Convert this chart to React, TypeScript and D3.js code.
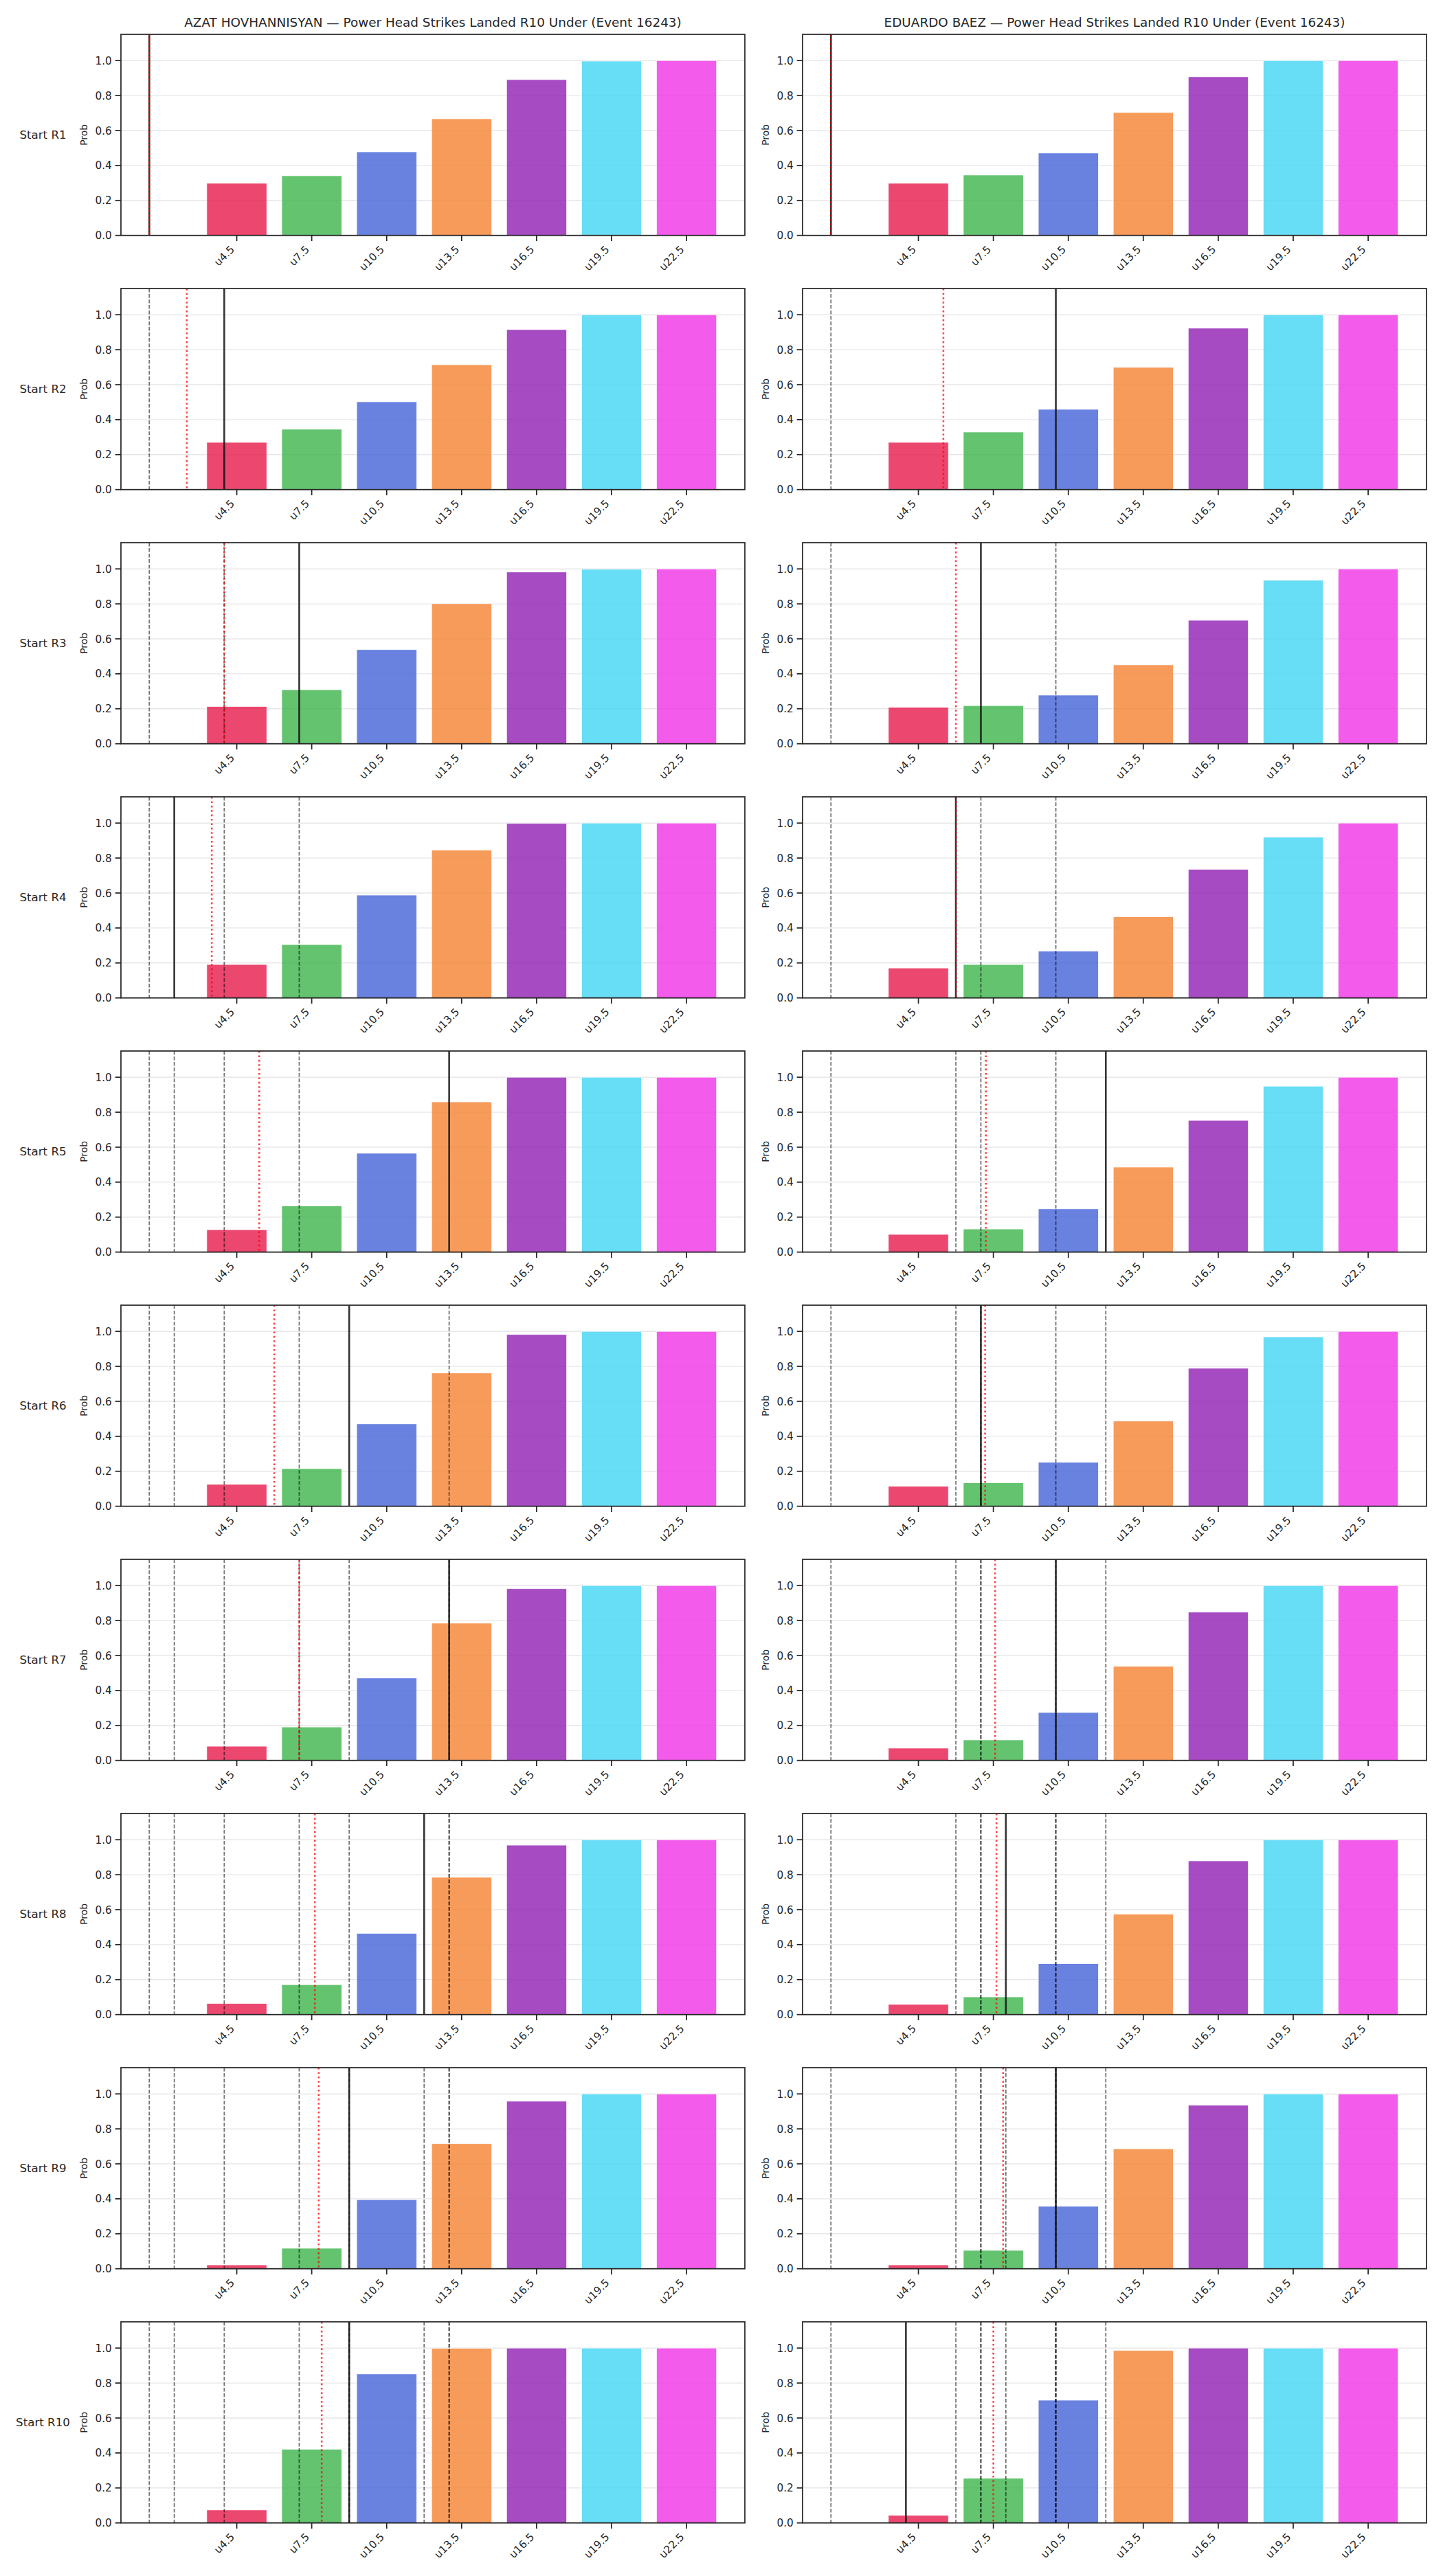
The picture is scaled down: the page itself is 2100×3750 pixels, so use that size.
import * as d3 from "d3";

// bar thresholds on the x axis (line value = numeric position)
const thresholds = ["u4.5", "u7.5", "u10.5", "u13.5", "u16.5", "u19.5", "u22.5"];
const lineValues = [4.5, 7.5, 10.5, 13.5, 16.5, 19.5, 22.5];
const barColors = ["#e6194b", "#3cb44b", "#4363d8", "#f58231", "#911eb4", "#42d4f4", "#f032e6"];
const rounds = ["R1", "R2", "R3", "R4", "R5", "R6", "R7", "R8", "R9", "R10"];
const yTicks = [0, 0.2, 0.4, 0.6, 0.8, 1.0];

const fighterNames = ["AZAT HOVHANNISYAN", "EDUARDO BAEZ"];
const propName = "Power Head Strikes Landed R10 Under";
const eventId = 16243;

// P(under) per starting round
const azatProbs = [
  [0.298, 0.341, 0.478, 0.667, 0.891, 0.997, 1.0],
  [0.27, 0.345, 0.502, 0.714, 0.915, 1.0, 1.0],
  [0.213, 0.309, 0.538, 0.801, 0.982, 0.998, 1.0],
  [0.191, 0.305, 0.588, 0.845, 0.998, 1.0, 1.0],
  [0.128, 0.264, 0.565, 0.859, 1.0, 1.0, 1.0],
  [0.125, 0.215, 0.471, 0.762, 0.982, 1.0, 1.0],
  [0.081, 0.191, 0.471, 0.785, 0.982, 1.0, 1.0],
  [0.063, 0.171, 0.464, 0.785, 0.969, 1.0, 1.0],
  [0.022, 0.117, 0.395, 0.715, 0.958, 1.0, 1.0],
  [0.074, 0.421, 0.852, 0.998, 1.0, 1.0, 1.0],
];
const eduardoProbs = [
  [0.298, 0.345, 0.471, 0.703, 0.907, 1.0, 1.0],
  [0.27, 0.329, 0.459, 0.699, 0.923, 1.0, 1.0],
  [0.208, 0.218, 0.278, 0.451, 0.706, 0.935, 1.0],
  [0.171, 0.191, 0.267, 0.464, 0.735, 0.919, 1.0],
  [0.101, 0.132, 0.247, 0.486, 0.753, 0.949, 1.0],
  [0.114, 0.134, 0.251, 0.487, 0.789, 0.969, 1.0],
  [0.07, 0.117, 0.274, 0.538, 0.848, 1.0, 1.0],
  [0.058, 0.101, 0.291, 0.574, 0.879, 1.0, 1.0],
  [0.022, 0.105, 0.357, 0.686, 0.935, 1.0, 1.0],
  [0.043, 0.255, 0.702, 0.986, 1.0, 1.0, 1.0],
];

// landed per round (solid line), running average (red dotted)
const azatActual = [1, 4, 7, 2, 13, 9, 13, 12, 9, 9];
const azatAvg = [1, 2.5, 4, 3.5, 5.4, 6, 7, 7.625, 7.78, 7.9];
const eduardoActual = [1, 10, 7, 6, 12, 7, 10, 8, 10, 4];
const eduardoAvg = [1, 5.5, 6, 6, 7.2, 7.17, 7.57, 7.625, 7.89, 7.5];

const W = 2100;
const H = 3750;
const FONT = "DejaVu Sans, sans-serif";
const INK = "#262626";
const colLeft = [176, 1168];
const axW = 908;
const axH = 292.7;
const rowTop = (i: number) => 50 + i * 370;
const BAR_W = 2.4;

function Panel({ left, top, probs, actual, avg, history, idx }: any) {
  const lo = Math.min(lineValues[0] - BAR_W / 2, ...history, actual, avg);
  const hi = Math.max(lineValues[lineValues.length - 1] + BAR_W / 2, ...history, actual, avg);
  const pad = (hi - lo) * 0.05;
  const x = d3.scaleLinear().domain([lo - pad, hi + pad]).range([0, axW]);
  const y = d3.scaleLinear().domain([0, 1.15]).range([axH, 0]);
  const fmt = d3.format(".1f");
  const clip = `clip-${idx}`;

  return (
    <g transform={`translate(${left},${top})`}>
      <defs>
        <clipPath id={clip}>
          <rect x={0} y={0} width={axW} height={axH} />
        </clipPath>
      </defs>
      {/* horizontal grid */}
      {yTicks.map((t) => (
        <line key={t} x1={0} x2={axW} y1={y(t)} y2={y(t)} stroke="#b0b0b0" strokeOpacity={0.3} strokeWidth={1.4} />
      ))}
      {/* bars */}
      {probs.map((p: number, i: number) => (
        <rect
          key={i}
          x={x(lineValues[i] - BAR_W / 2)}
          width={x(lineValues[i] + BAR_W / 2) - x(lineValues[i] - BAR_W / 2)}
          y={y(p)}
          height={y(0) - y(p)}
          fill={barColors[i]}
          fillOpacity={0.8}
          stroke="#ffffff"
          strokeWidth={0.7}
        />
      ))}
      <g clipPath={`url(#${clip})`}>
        {/* earlier rounds */}
        {history.map((v: number, i: number) => (
          <line key={i} x1={x(v)} x2={x(v)} y1={0} y2={axH} stroke="#000" strokeOpacity={0.55} strokeWidth={1.8} strokeDasharray="5.5,2.5" />
        ))}
        <line x1={x(actual)} x2={x(actual)} y1={0} y2={axH} stroke="#111" strokeOpacity={0.85} strokeWidth={2.6} />
        <line x1={x(avg)} x2={x(avg)} y1={0} y2={axH} stroke="red" strokeOpacity={0.75} strokeWidth={2.6} strokeDasharray="2.6,3.8" />
      </g>
      {/* frame */}
      <rect x={0} y={0} width={axW} height={axH} fill="none" stroke={INK} strokeWidth={1.74} />
      {/* y ticks */}
      {yTicks.map((t) => (
        <g key={t} transform={`translate(0,${y(t)})`}>
          <line x1={-8.33} x2={0} stroke={INK} strokeWidth={1.74} />
          <text x={-13.2} dy="0.36em" textAnchor="end" fontSize={15.28} fill={INK} fontFamily={FONT}>
            {fmt(t)}
          </text>
        </g>
      ))}
      {/* x ticks */}
      {lineValues.map((v, i) => (
        <g key={v} transform={`translate(${x(v)},${axH})`}>
          <line y1={0} y2={8.33} stroke={INK} strokeWidth={1.74} />
          <text
            transform={`translate(-2.5,${13.2 + 8.2}) rotate(-45)`}
            textAnchor="end"
            fontSize={15.28}
            fill={INK}
            fontFamily={FONT}
          >
            {thresholds[i]}
          </text>
        </g>
      ))}
      <text
        transform={`translate(${-53.5},${axH / 2}) rotate(-90)`}
        textAnchor="middle"
        dy="0.35em"
        fontSize={13.9}
        fill={INK}
        fontFamily={FONT}
      >
        Prob
      </text>
    </g>
  );
}

export default function App() {
  const fighters = [
    { name: fighterNames[0], probs: azatProbs, actual: azatActual, avg: azatAvg },
    { name: fighterNames[1], probs: eduardoProbs, actual: eduardoActual, avg: eduardoAvg },
  ];
  return (
    <svg
      width={W}
      height={H}
      viewBox={`0 0 ${W} ${H}`}
      style={{ position: "absolute", left: 0, top: 0, background: "#fff" }}
    >
      <rect width={W} height={H} fill="#fff" />
      {fighters.map((f, c) => (
        <g key={f.name}>
          <text
            x={colLeft[c] + axW / 2}
            y={39}
            textAnchor="middle"
            fontSize={18.4}
            fill={INK}
            fontFamily={FONT}
          >
            {`${f.name} — ${propName} (Event ${eventId})`}
          </text>
          {rounds.map((r, i) => (
            <Panel
              key={r}
              idx={`${c}-${i}`}
              left={colLeft[c]}
              top={rowTop(i)}
              probs={f.probs[i]}
              actual={f.actual[i]}
              avg={f.avg[i]}
              history={f.actual.slice(0, i)}
            />
          ))}
        </g>
      ))}
      {rounds.map((r, i) => (
        <text
          key={r}
          x={62.5}
          y={rowTop(i) + axH / 2}
          dy="0.35em"
          textAnchor="middle"
          fontSize={16.67}
          fill={INK}
          fontFamily={FONT}
        >
          {`Start ${r}`}
        </text>
      ))}
    </svg>
  );
}
